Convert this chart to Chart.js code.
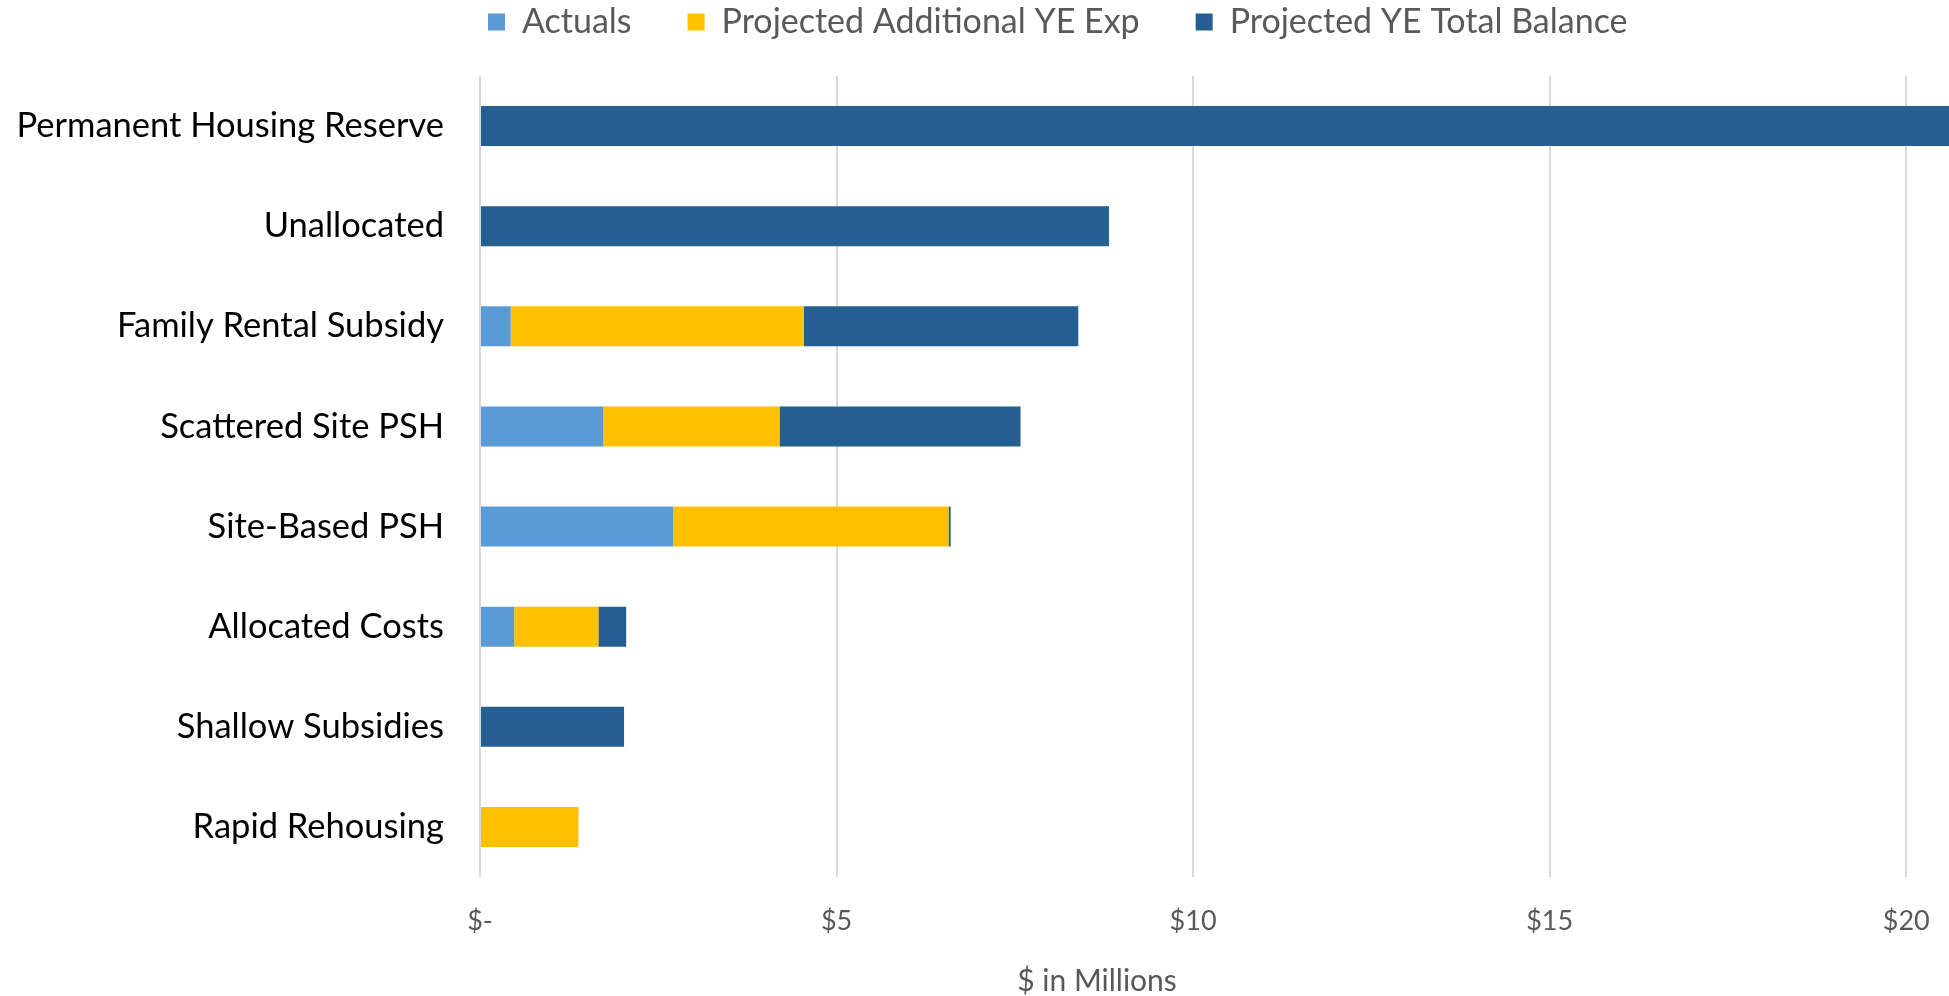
<!DOCTYPE html>
<html>
<head>
<meta charset="utf-8">
<script src="https://cdn.jsdelivr.net/npm/chart.js@4.4.1/dist/chart.umd.min.js"></script>
<style>
  html, body { margin: 0; padding: 0; background: #ffffff; }
  canvas { display: block; }
</style>
</head>
<body>
<canvas id="budgetChart" width="1949" height="996"></canvas>
<script>
// $ in millions per program line
var categories = [
  "Permanent Housing Reserve",
  "Unallocated",
  "Family Rental Subsidy",
  "Scattered Site PSH",
  "Site-Based PSH",
  "Allocated Costs",
  "Shallow Subsidies",
  "Rapid Rehousing"
];
var actuals          = [0,    0,    0.43, 1.73, 2.71, 0.48, 0,    0];
var projectedExp     = [0,    0,    4.11, 2.47, 3.86, 1.18, 0,    1.38];
var projectedBalance = [20.6, 8.82, 3.85, 3.38, 0.03, 0.39, 2.02, 0];
var xTicks = [0, 5, 10, 15, 20];

var GRAY_TEXT = "#595959";
var FONT = "Lato, 'Open Sans', sans-serif";

// pushes the legend row to where it sits over the plot
var legendPlacement = {
  id: "legendPlacement",
  beforeInit: function (chart) {
    var fit = chart.legend.fit;
    chart.legend.fit = function () {
      fit.call(this);
      this.height = 76;
    };
  },
  afterLayout: function (chart) {
    var lg = chart.legend;
    var pad = lg.options.labels.padding;
    lg.left = 488 - pad;
    lg.top = 22 - pad - lg.options.labels.font.size / 2;
  }
};

// axis caption under the tick labels
var axisCaption = {
  id: "axisCaption",
  afterDraw: function (chart) {
    var ctx = chart.ctx;
    ctx.save();
    ctx.font = "30px " + FONT;
    ctx.fillStyle = GRAY_TEXT;
    ctx.textAlign = "center";
    ctx.textBaseline = "middle";
    ctx.fillText("$ in Millions", 1097, 981);
    ctx.restore();
  }
};

new Chart(document.getElementById("budgetChart"), {
  type: "bar",
  data: {
    labels: categories,
    datasets: [
      { label: "Actuals", data: actuals, backgroundColor: "#5B9BD5" },
      { label: "Projected Additional YE Exp", data: projectedExp, backgroundColor: "#FFC000" },
      { label: "Projected YE Total Balance", data: projectedBalance, backgroundColor: "#255E91" }
    ]
  },
  options: {
    indexAxis: "y",
    responsive: false,
    animation: false,
    devicePixelRatio: 1,
    layout: { padding: 0 },
    datasets: {
      bar: { categoryPercentage: 1, barPercentage: 0.4, borderWidth: 0 }
    },
    scales: {
      x: {
        stacked: true,
        min: 0,
        max: 20.6,
        afterFit: function (scale) {
          scale.height = 119;
          scale.paddingRight = 0;
        },
        afterBuildTicks: function (scale) {
          scale.ticks = xTicks.map(function (v) { return { value: v }; });
        },
        grid: { color: "#D9D9D9", lineWidth: 2, drawTicks: false },
        border: { display: false },
        ticks: {
          padding: 28,
          color: GRAY_TEXT,
          font: { family: FONT, size: 27 },
          callback: function (v) { return v === 0 ? "$-" : "$" + v; }
        }
      },
      y: {
        stacked: true,
        afterFit: function (scale) { scale.width = 480; },
        grid: { display: false, drawTicks: false },
        border: { display: false },
        ticks: {
          padding: 36,
          color: "#000000",
          font: { family: FONT, size: 34.5 }
        }
      }
    },
    plugins: {
      legend: {
        position: "top",
        align: "start",
        labels: {
          boxWidth: 17,
          boxHeight: 17,
          padding: 56,
          color: GRAY_TEXT,
          font: { family: FONT, size: 34 }
        }
      },
      tooltip: { enabled: false }
    }
  },
  plugins: [legendPlacement, axisCaption]
});
</script>
</body>
</html>
